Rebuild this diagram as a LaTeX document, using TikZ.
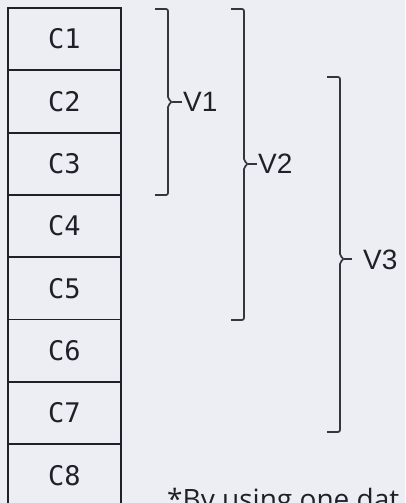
\documentclass[tikz,border=0pt]{standalone}
\usepackage{fontspec}
\setmainfont{Liberation Sans}
\newfontfamily\cellfont{DejaVu Sans Mono}
\newfontfamily\notefont{Open Sans}
\definecolor{bgc}{HTML}{ECEEF3}
\definecolor{linec}{HTML}{1E2129}
\definecolor{bracec}{HTML}{33363F}
\begin{document}
\begin{tikzpicture}[x=1pt,y=-1pt,
  cellbox/.style={draw=linec,line width=1.8pt,minimum width=113pt,minimum height=62.3pt,inner sep=0pt,font=\cellfont\fontsize{27}{27}\selectfont,text=linec},
  bracepath/.style={draw=bracec,line width=1.7pt,rounded corners=2pt},
  vlabel/.style={anchor=west,inner sep=0pt,font=\fontsize{28}{28}\selectfont,text=linec},
  notelabel/.style={anchor=base west,inner sep=0pt,font=\notefont\fontsize{28}{28}\selectfont,text=linec}]
\fill[bgc] (0,0) rectangle (405,503);
\useasboundingbox (0,0) rectangle (405,503);
\foreach \i in {1,...,8}{
  \node[cellbox] (c\i) at (64.5,{8+62.3*(\i-0.5)}) {C\i};
}
% brace: x line, top, bottom, mid, tick end
\newcommand\mybrace[5]{%
  \draw[bracepath] ({#1-13},#2) -- (#1,#2) -- (#1,{#4-3}) -- ({#1+4},#4) -- (#1,{#4+3}) -- (#1,#3) -- ({#1-13},#3);
  \draw[bracepath] ({#1+4},#4) -- (#5,#4);}
\mybrace{168}{9}{195}{102}{182}
\node[vlabel] (v1) at (183,102) {V1};
\mybrace{244}{9}{320}{164}{257}
\node[vlabel] (v2) at (258,164) {V2};
\mybrace{340}{77}{432}{259}{352}
\node[vlabel] (v3) at (363,260) {V3};
\node[notelabel] (note) at (167,509) {*By using one dat};
\end{tikzpicture}
\end{document}
